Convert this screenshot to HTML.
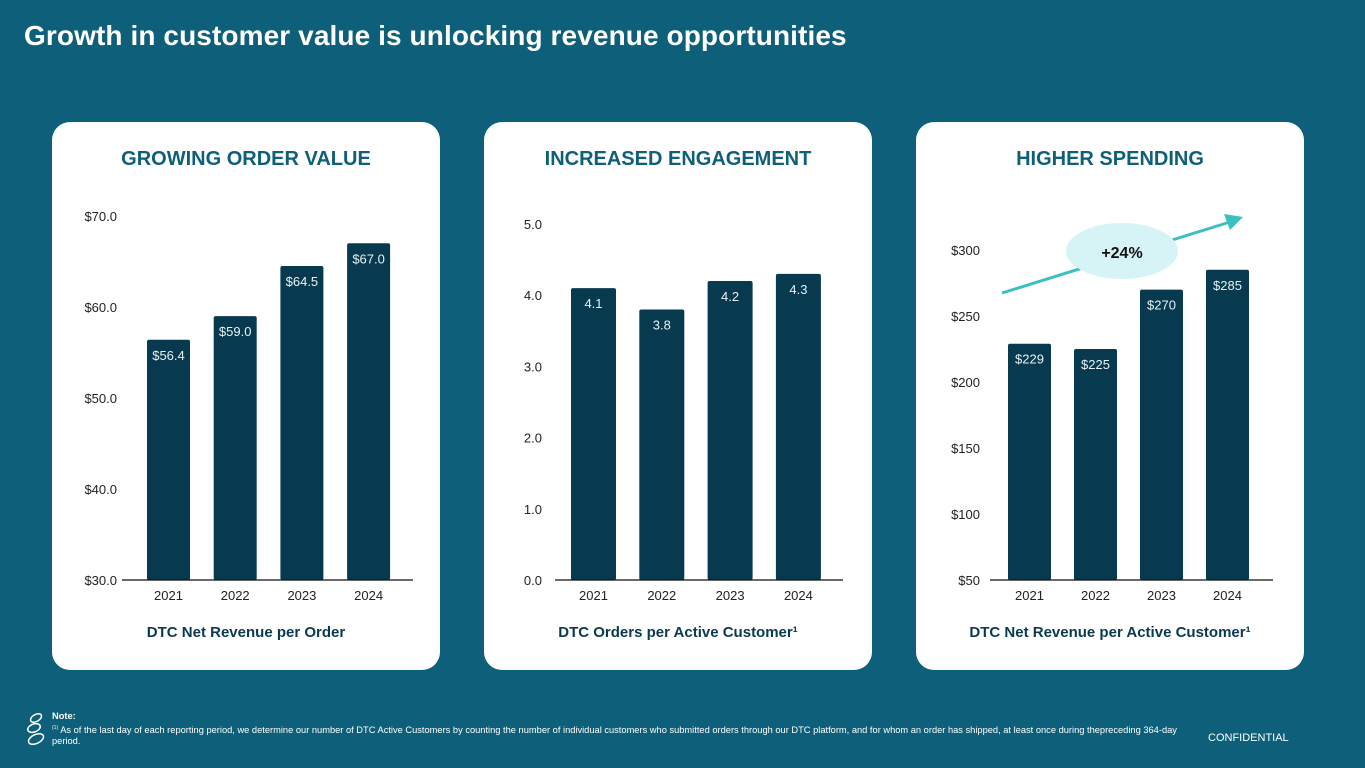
<!DOCTYPE html>
<html><head><meta charset="utf-8">
<style>
html,body{margin:0;padding:0;}
body{width:1365px;height:768px;background:#0e5f7a;position:relative;overflow:hidden;font-family:"Liberation Sans",sans-serif;}
.title{position:absolute;left:24px;top:20px;font-size:28px;font-weight:bold;color:#fff;letter-spacing:0.1px;}
.card{position:absolute;top:122px;width:388px;height:548px;background:#fff;border-radius:18px;}
.ct{position:absolute;top:26px;width:100%;text-align:center;font-size:20px;font-weight:bold;color:#0e5f7a;}
.cs{position:absolute;top:502px;width:100%;text-align:center;font-size:15px;font-weight:bold;color:#0a3a4f;}
svg{position:absolute;left:0;top:0;}
.note{position:absolute;left:52px;top:711px;font-size:9.3px;color:#fff;line-height:11.5px;width:1150px;}
.conf{position:absolute;left:1208px;top:732px;font-size:11px;color:#fff;}
</style></head><body>
<div class="title">Growth in customer value is unlocking revenue opportunities</div>
<div class="card" style="left:52px"><div class="ct">GROWING ORDER VALUE</div><div class="cs">DTC Net Revenue per Order</div></div>
<div class="card" style="left:484px"><div class="ct">INCREASED ENGAGEMENT</div><div class="cs">DTC Orders per Active Customer¹</div></div>
<div class="card" style="left:916px"><div class="ct">HIGHER SPENDING</div><div class="cs">DTC Net Revenue per Active Customer¹</div></div>
<svg id="chart" width="1365" height="768">
<line x1="1002" y1="293" x2="1230" y2="222" stroke="#3cbfbf" stroke-width="3"/>
<polygon points="1243,217 1224,214 1230,230" fill="#3cbfbf"/>
<ellipse cx="1122" cy="251" rx="56" ry="28" fill="#d6f3f6"/>
<text x="1122" y="258" text-anchor="middle" font-size="16" font-weight="bold" fill="#111">+24%</text>
</svg>
<div class="note"><b>Note:</b><br><sup style="font-size:5px">(1)</sup> As of the last day of each reporting period, we determine our number of DTC Active Customers by counting the number of individual customers who submitted orders through our DTC platform, and for whom an order has shipped, at least once during thepreceding 364-day period.</div>
<div class="conf">CONFIDENTIAL</div>
<svg width="40" height="60" style="left:14px;top:708px">
<ellipse cx="22" cy="10" rx="6" ry="3.5" transform="rotate(-30 22 10)" fill="none" stroke="#fff" stroke-width="1.5"/>
<ellipse cx="20" cy="20" rx="6.5" ry="4" transform="rotate(-20 20 20)" fill="none" stroke="#fff" stroke-width="1.5"/>
<ellipse cx="22" cy="31" rx="8" ry="4.5" transform="rotate(-25 22 31)" fill="none" stroke="#fff" stroke-width="1.5"/>
</svg>
<script>
const years = ["2021","2022","2023","2024"];
const orderValues = [56.4, 59.0, 64.5, 67.0];
const orderLabels = ["$56.4","$59.0","$64.5","$67.0"];
const orderTicks = [30,40,50,60,70];
const orderTickLabels = ["$30.0","$40.0","$50.0","$60.0","$70.0"];
const engageValues = [4.1, 3.8, 4.2, 4.3];
const engageLabels = ["4.1","3.8","4.2","4.3"];
const engageTicks = [0,1,2,3,4,5];
const engageTickLabels = ["0.0","1.0","2.0","3.0","4.0","5.0"];
const spendValues = [229, 225, 270, 285];
const spendLabels = ["$229","$225","$270","$285"];
const spendTicks = [50,100,150,200,250,300];
const spendTickLabels = ["$50","$100","$150","$200","$250","$300"];

const svg = document.getElementById('chart');
const NS = 'http://www.w3.org/2000/svg';
function mk(tag, attrs){const e=document.createElementNS(NS,tag);for(const k in attrs)e.setAttribute(k,attrs[k]);return e;}
function drawChart(cfg, key){
  const y = v => cfg.base - (v - cfg.vmin) * cfg.pxPer;
  const first = svg.firstChild;
  cfg.ticks.forEach((t,i)=>{
    const tx = mk('text',{x:cfg.labelX,y:y(t)+5,'text-anchor':'end','font-size':13,fill:'#222'});
    
    
    tx.textContent = cfg.tickLabels[i]; svg.insertBefore(tx, first);
  });
  cfg.values.forEach((v,i)=>{
    const x = cfg.x0 + i*cfg.step;
    const r = mk('rect',{x:x,y:y(v),width:cfg.bw,height:cfg.base-y(v),rx:2,fill:'#083a4f'});
    
    
    svg.insertBefore(r, first);
    const lt = mk('text',{x:x+cfg.bw/2,y:y(v)+20,'text-anchor':'middle','font-size':13,fill:'#e8f2f5'});
    
    
    lt.textContent = cfg.labels[i]; svg.insertBefore(lt, first);
    const xt = mk('text',{x:x+cfg.bw/2,y:cfg.base+20,'text-anchor':'middle','font-size':13,fill:'#222'});
    
    
    xt.textContent = years[i]; svg.insertBefore(xt, first);
  });
  const ax = mk('line',{x1:cfg.ax1,x2:cfg.ax2,y1:cfg.base,y2:cfg.base,stroke:'#111','stroke-width':1.3});
  
  
  svg.insertBefore(ax, first);
}
drawChart({values:orderValues,labels:orderLabels,ticks:orderTicks,tickLabels:orderTickLabels,vmin:30,pxPer:9.1,base:580,x0:147,step:66.7,bw:43,labelX:117,ax1:122,ax2:413},'order');
drawChart({values:engageValues,labels:engageLabels,ticks:engageTicks,tickLabels:engageTickLabels,vmin:0,pxPer:71.2,base:580,x0:571,step:68.3,bw:45,labelX:542,ax1:555,ax2:843},'engagement');
drawChart({values:spendValues,labels:spendLabels,ticks:spendTicks,tickLabels:spendTickLabels,vmin:50,pxPer:1.32,base:580,x0:1008,step:66,bw:43,labelX:980,ax1:990,ax2:1273},'spending');
</script>
</body></html>
